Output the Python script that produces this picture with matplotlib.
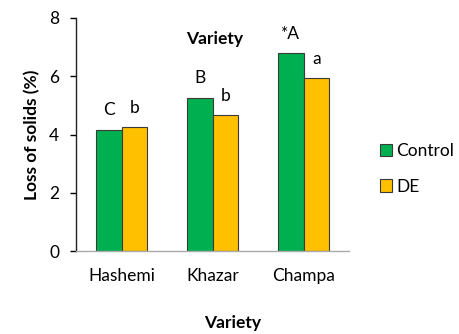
import matplotlib
matplotlib.use("Agg")
import matplotlib.pyplot as plt
import numpy as np

plt.rcParams['font.family'] = ['Lato', 'DejaVu Sans']

varieties = ["Hashemi", "Khazar", "Champa"]
control = [4.17, 5.27, 6.79]
de = [4.27, 4.67, 5.93]
control_letters = ["C", "B", "*A"]
de_letters = ["b", "b", "a"]
yticks = [0, 2, 4, 6, 8]

green = "#00B050"
yellow = "#FFC000"
edge = "#3a3a3a"
fs = 12.5

fig = plt.figure(figsize=(4.59, 3.34), dpi=100)
ax = fig.add_axes([76/459, 1 - 251/334, (349-76)/459, (251-18)/334])

x = np.arange(len(varieties))
w = 0.285
b1 = ax.bar(x - w/2, control, w, color=green, edgecolor=edge, linewidth=0.8, label="Control")
b2 = ax.bar(x + w/2, de, w, color=yellow, edgecolor=edge, linewidth=0.8, label="DE")

for bars, letters in ((b1, control_letters), (b2, de_letters)):
    for rect, lab in zip(bars, letters):
        ax.annotate(lab, (rect.get_x() + rect.get_width()/2, rect.get_height()),
                    xytext=(0, 8), textcoords="offset points", ha="center", va="bottom",
                    fontsize=fs)

ax.set_xlim(-0.5, 2.5)
ax.set_ylim(0, 8)
ax.set_yticks(yticks)
ax.set_xticks(x)
ax.set_xticklabels(varieties)
ax.tick_params(axis="x", length=0, pad=12, labelsize=fs)
ax.tick_params(axis="y", length=4.5, width=1, direction="out", labelsize=fs, pad=7.5)
for s in ["top", "right"]:
    ax.spines[s].set_visible(False)
ax.spines["left"].set_color("#222222")
ax.spines["left"].set_linewidth(1.0)
ax.spines["bottom"].set_color("#aaaaaa")
ax.spines["bottom"].set_linewidth(1.0)

ax.set_ylabel("Loss of solids (%)", fontsize=fs, fontweight="bold")
ax.yaxis.set_label_coords(-(76-40)/273, 0.5)
fig.text(215/459, 1 - 39/334, "Variety", ha="center", va="center", fontsize=fs, fontweight="bold")
fig.text(233/459, 1 - 323/334, "Variety", ha="center", va="center", fontsize=fs, fontweight="bold")

leg = fig.legend(handles=[b1, b2], loc="center left", bbox_to_anchor=(380/459, 1 - 169/334),
                 frameon=False, fontsize=fs, handlelength=0.7, handleheight=0.7,
                 handletextpad=0.25, labelspacing=1.1, borderpad=0, borderaxespad=0)

fig.savefig("out.png", dpi=100)
